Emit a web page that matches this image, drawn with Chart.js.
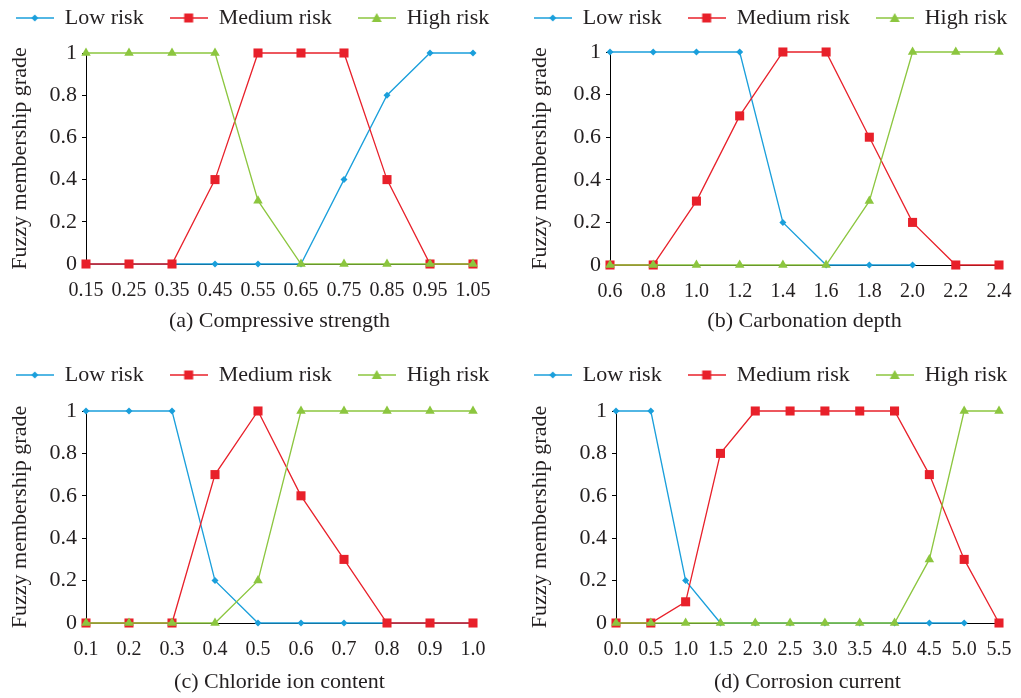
<!DOCTYPE html>
<html>
<head>
<meta charset="utf-8">
<script src="https://cdn.jsdelivr.net/npm/chart.js@4.4.1/dist/chart.umd.min.js"></script>
<style>
  body { margin: 0; background: #fff; width: 1021px; height: 698px; overflow: hidden; position: relative; }
  .panel { position: absolute; }
</style>
</head>
<body>
<div class="panel" style="left:0;top:0;width:505px;height:340px"><canvas id="chartA"></canvas></div>
<div class="panel" style="left:520px;top:0;width:501px;height:340px"><canvas id="chartB"></canvas></div>
<div class="panel" style="left:0;top:355px;width:505px;height:343px"><canvas id="chartC"></canvas></div>
<div class="panel" style="left:520px;top:355px;width:501px;height:343px"><canvas id="chartD"></canvas></div>
<script>
// (a) compressive strength
const strengthLabels = ['0.15', '0.25', '0.35', '0.45', '0.55', '0.65', '0.75', '0.85', '0.95', '1.05'];
const strengthLow    = [0, 0, 0, 0, 0, 0, 0.4, 0.8, 1, 1];
const strengthMedium = [0, 0, 0, 0.4, 1, 1, 1, 0.4, 0, 0];
const strengthHigh   = [1, 1, 1, 1, 0.3, 0, 0, 0, 0, 0];

// (b) carbonation depth
const carbonLabels = ['0.6', '0.8', '1.0', '1.2', '1.4', '1.6', '1.8', '2.0', '2.2', '2.4'];
const carbonLow    = [1, 1, 1, 1, 0.2, 0, 0, 0, null, null];
const carbonMedium = [0, 0, 0.3, 0.7, 1, 1, 0.6, 0.2, 0, 0];
const carbonHigh   = [0, 0, 0, 0, 0, 0, 0.3, 1, 1, 1];

// (c) chloride ion content
const chlorideLabels = ['0.1', '0.2', '0.3', '0.4', '0.5', '0.6', '0.7', '0.8', '0.9', '1.0'];
const chlorideLow    = [1, 1, 1, 0.2, 0, 0, 0, 0, 0, 0];
const chlorideMedium = [0, 0, 0, 0.7, 1, 0.6, 0.3, 0, 0, 0];
const chlorideHigh   = [0, 0, 0, 0, 0.2, 1, 1, 1, 1, 1];

// (d) corrosion current
const currentLabels = ['0.0', '0.5', '1.0', '1.5', '2.0', '2.5', '3.0', '3.5', '4.0', '4.5', '5.0', '5.5'];
const currentLow    = [1, 1, 0.2, 0, 0, 0, 0, 0, 0, 0, 0, null];
const currentMedium = [0, 0, 0.1, 0.8, 1, 1, 1, 1, 1, 0.7, 0.3, 0];
const currentHigh   = [0, 0, 0, 0, 0, 0, 0, 0, 0, 0.3, 1, 1];

const seriesNames = ['Low risk', 'Medium risk', 'High risk'];
const yTicks = [0, 0.2, 0.4, 0.6, 0.8, 1];

const FONT = "'Liberation Serif', 'Times New Roman', serif";
const TEXT = '#231f20';
const BLUE = '#1a9fdb';
const RED = '#e8202a';
const GREEN = '#8cc63f';

function drawMarker(ctx, shape, x, y) {
  ctx.beginPath();
  if (shape === 'rectRot') {
    ctx.moveTo(x, y - 3.5); ctx.lineTo(x + 3.5, y); ctx.lineTo(x, y + 3.5); ctx.lineTo(x - 3.5, y);
  } else if (shape === 'rect') {
    ctx.rect(x - 4.5, y - 4.5, 9, 9);
  } else {
    ctx.moveTo(x, y - 5); ctx.lineTo(x + 5, y + 4); ctx.lineTo(x - 5, y + 4);
  }
  ctx.closePath();
  ctx.fill();
}

// little line + marker picture used as the legend symbol
function legendIcon(color, shape) {
  const c = document.createElement('canvas');
  c.width = 38; c.height = 14;
  const ctx = c.getContext('2d');
  ctx.strokeStyle = color;
  ctx.fillStyle = color;
  ctx.lineWidth = 1.3;
  ctx.beginPath(); ctx.moveTo(0, 7); ctx.lineTo(38, 7); ctx.stroke();
  drawMarker(ctx, shape, 19, 7);
  return c;
}

const icons = [legendIcon(BLUE, 'rectRot'), legendIcon(RED, 'rect'), legendIcon(GREEN, 'triangle')];

function makeChart(id, labels, low, medium, high, title, cfg) {
  // extra room between legend and plot
  const legendGap = {
    id: 'legendGap',
    beforeInit(chart) {
      const fit = chart.legend.fit;
      chart.legend.fit = function () {
        fit.bind(chart.legend)();
        this.height += cfg.gap;
      };
    }
  };

  const line = (label, data, color, style, radius, order) => ({
    label: label,
    data: data,
    borderColor: color,
    backgroundColor: color,
    borderWidth: 1.3,
    pointStyle: style,
    pointRadius: radius,
    pointHoverRadius: radius,
    pointBorderWidth: 0,
    tension: 0,
    clip: false,
    order: order
  });

  return new Chart(document.getElementById(id), {
    type: 'line',
    data: {
      labels: labels,
      datasets: [
        line(seriesNames[0], low, BLUE, 'rectRot', 3.5, 3),
        line(seriesNames[1], medium, RED, 'rect', 6.4, 2),
        line(seriesNames[2], high, GREEN, 'triangle', 5.5, 1)
      ]
    },
    options: {
      responsive: true,
      maintainAspectRatio: false,
      animation: false,
      layout: { padding: { top: cfg.padTop, left: 0, right: 0, bottom: 0 } },
      plugins: {
        tooltip: { enabled: false },
        legend: {
          display: true,
          position: 'top',
          labels: {
            usePointStyle: true,
            pointStyleWidth: 38,
            padding: 4,
            color: TEXT,
            font: { family: FONT, size: 22 },
            generateLabels: (chart) => chart.data.datasets.map((ds, i) => ({
              // trailing spaces widen the gap between legend entries
              text: i < 2 ? ds.label + '    ' : ds.label,
              pointStyle: icons[i],
              fontColor: TEXT,
              fillStyle: 'transparent',
              strokeStyle: 'transparent',
              lineWidth: 0,
              hidden: false,
              datasetIndex: i
            }))
          }
        }
      },
      scales: {
        x: {
          type: 'category',
          offset: false,
          grid: { display: false, drawTicks: false },
          border: { display: true, color: '#000', width: 1 },
          ticks: {
            color: TEXT,
            font: { family: FONT, size: 20 },
            padding: 15,
            autoSkip: false,
            maxRotation: 0,
            minRotation: 0
          },
          title: {
            display: true,
            text: title,
            color: TEXT,
            font: { family: FONT, size: 22 },
            padding: { top: 4, bottom: cfg.titleBottom }
          },
          afterFit: (scale) => {
            scale.height = cfg.xHeight;
            scale.paddingRight = cfg.padRight;
            scale.paddingLeft = 0;
          }
        },
        y: {
          min: 0,
          max: 1,
          grid: { display: true, drawOnChartArea: false, drawTicks: true, tickLength: 4, color: '#000' },
          border: { display: true, color: '#000', width: 1 },
          afterBuildTicks: (scale) => { scale.ticks = yTicks.map((v) => ({ value: v })); },
          ticks: {
            color: TEXT,
            font: { family: FONT, size: 22 },
            padding: 5,
            callback: (v) => (v === 0 || v === 1 ? String(v) : v.toFixed(1))
          },
          title: {
            display: true,
            text: 'Fuzzy membership grade',
            color: TEXT,
            font: { family: FONT, size: 22 },
            padding: { top: 7, bottom: 0 }
          },
          afterFit: (scale) => { scale.width = cfg.yWidth; }
        }
      }
    },
    plugins: [legendGap]
  });
}

makeChart('chartA', strengthLabels, strengthLow, strengthMedium, strengthHigh, '(a) Compressive strength',
  { yWidth: 86, padRight: 32, padTop: 3, gap: 14, xHeight: 76, titleBottom: 6 });
makeChart('chartB', carbonLabels, carbonLow, carbonMedium, carbonHigh, '(b) Carbonation depth',
  { yWidth: 90, padRight: 22, padTop: 3, gap: 13, xHeight: 75, titleBottom: 6 });
makeChart('chartC', chlorideLabels, chlorideLow, chlorideMedium, chlorideHigh, '(c) Chloride ion content',
  { yWidth: 86, padRight: 32, padTop: 5, gap: 15, xHeight: 75, titleBottom: 3 });
makeChart('chartD', currentLabels, currentLow, currentMedium, currentHigh, '(d) Corrosion current',
  { yWidth: 96, padRight: 22, padTop: 5, gap: 15, xHeight: 75, titleBottom: 3 });
</script>
</body>
</html>
